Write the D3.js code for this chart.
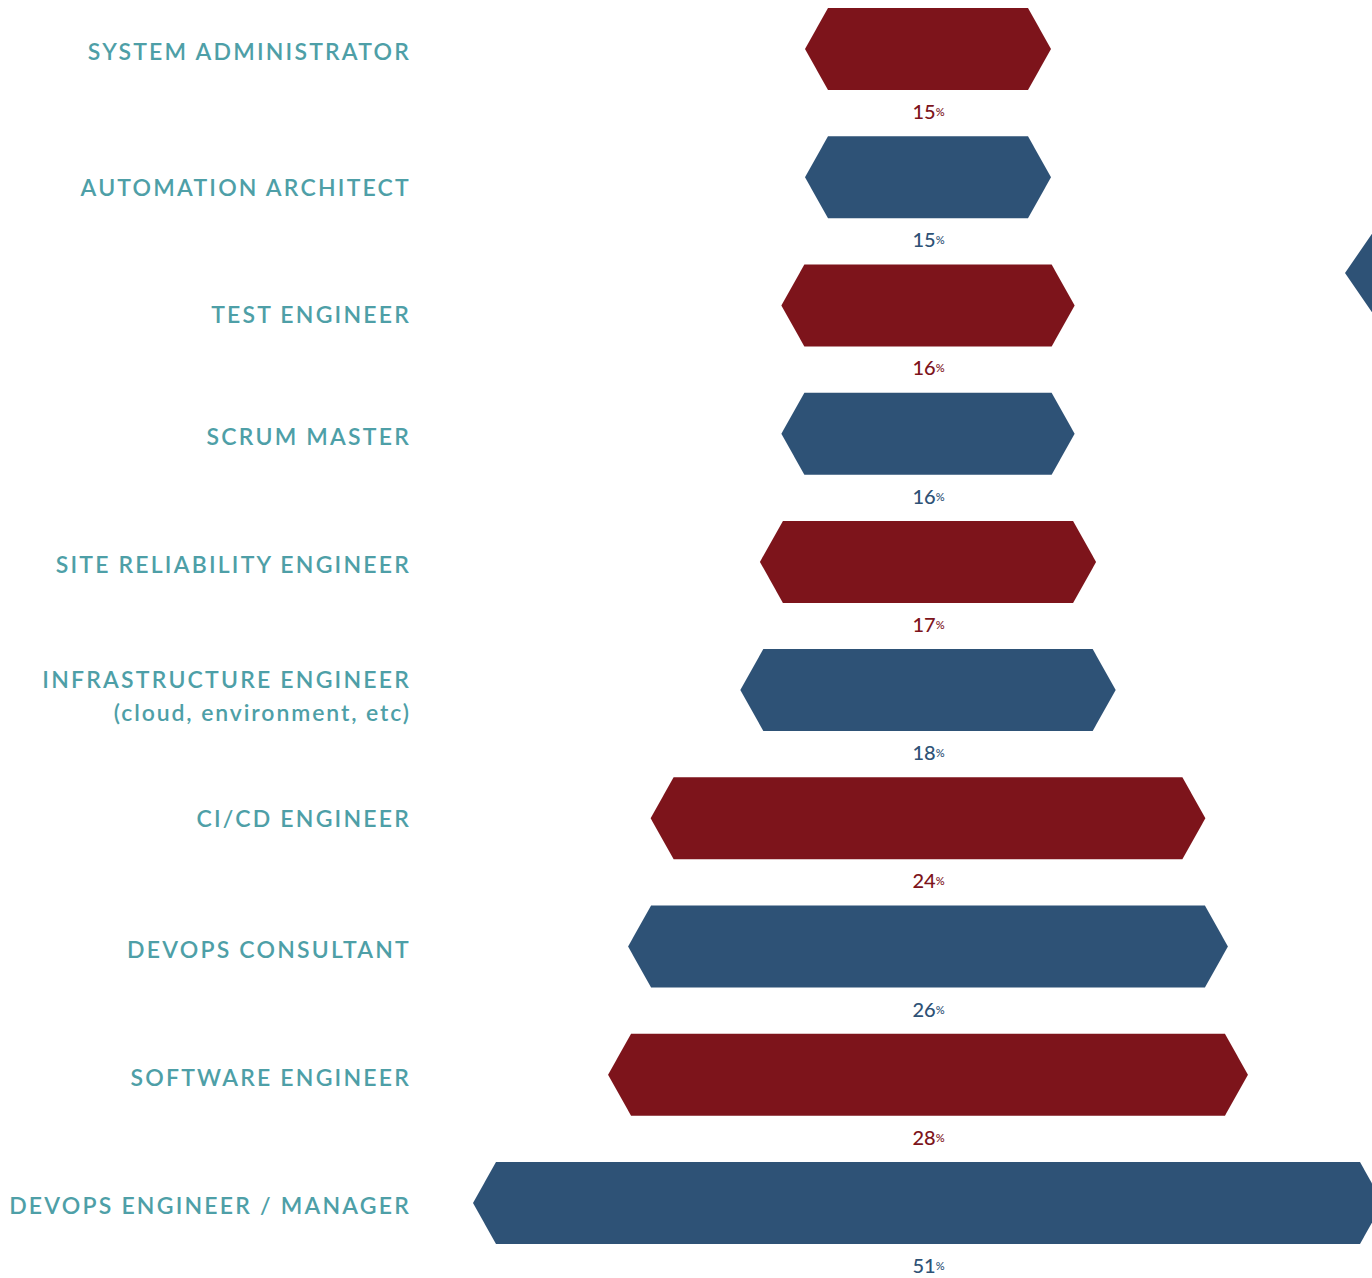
<!DOCTYPE html>
<html>
<head>
<meta charset="utf-8">
<script src="https://cdn.jsdelivr.net/npm/d3@7"></script>
<style>
  html, body { margin: 0; padding: 0; background: #ffffff; overflow: hidden; }
  svg { display: block; }
  .role { font-family: Lato, "Open Sans", sans-serif; font-weight: 600; fill: #4e9fa7; letter-spacing: 2.2px; }
  .share { font-family: Lato, "Open Sans", sans-serif; font-weight: 500; }
</style>
</head>
<body>
<svg id="chart" width="1372" height="1278"></svg>
<script>
// Job titles, top to bottom
const roles = [
  "SYSTEM ADMINISTRATOR",
  "AUTOMATION ARCHITECT",
  "TEST ENGINEER",
  "SCRUM MASTER",
  "SITE RELIABILITY ENGINEER",
  "INFRASTRUCTURE ENGINEER",
  "CI/CD ENGINEER",
  "DEVOPS CONSULTANT",
  "SOFTWARE ENGINEER",
  "DEVOPS ENGINEER / MANAGER"
];
// Second line under a title, where there is one
const roleNotes = ["", "", "", "", "", "(cloud, environment, etc)", "", "", "", ""];
// Share of respondents, percent
const shares = [15, 15, 16, 16, 17, 18, 24, 26, 28, 51];
// Bars alternate between these two fills
const fills = ["#7d141b", "#2e5276"];

const svg = d3.select("#chart");

const centerX = 928;
const barHeight = 82;
const tipInset = 23;
const labelRight = 411;
// small vertical nudges so each title sits on its bar's visual centre line
const labelNudge = [1, 9, 8, 2, 2, 3, -1, 2, 2, 1];

const y = d3.scalePoint().domain(roles).range([49, 1203]);
const barWidth = d3.scalePow().exponent(-0.55).domain([15, 51]).range([246, 910]);

const rows = roles.map((role, i) => ({
  role, note: roleNotes[i], value: shares[i], fill: fills[i % 2], nudge: labelNudge[i]
}));

// decorative edge of a neighbouring panel, mostly off the canvas
svg.append("path")
  .attr("d", "M1345,273 L1400,193 L1480,193 L1480,353 L1400,353 Z")
  .attr("fill", fills[1]);

const hexLine = d3.line();
const hexPoints = d => {
  const half = barWidth(d.value) / 2;
  const cy = y(d.role);
  const l = centerX - half, r = centerX + half;
  const t = cy - barHeight / 2, b = cy + barHeight / 2;
  return [[l, cy], [l + tipInset, t], [r - tipInset, t], [r, cy], [r - tipInset, b], [l + tipInset, b]];
};

const row = svg.selectAll("g.row").data(rows).join("g").attr("class", "row");

row.append("path")
  .attr("d", d => hexLine(hexPoints(d)) + "Z")
  .attr("fill", d => d.fill);

// value label under each bar, with a small percent sign
const share = row.append("text")
  .attr("class", "share")
  .attr("x", centerX + 0.5)
  .attr("y", d => y(d.role) + 70)
  .attr("text-anchor", "middle")
  .attr("fill", d => d.fill);
share.append("tspan").attr("font-size", 20).text(d => d.value);
share.append("tspan").attr("font-size", 11).attr("dy", -3).text("%");

// role titles, right-aligned against the bars
const label = row.append("text")
  .attr("class", "role")
  .attr("x", labelRight)
  .attr("text-anchor", "end")
  .attr("font-size", 23);
label.append("tspan")
  .attr("x", labelRight)
  .attr("y", d => y(d.role) + d.nudge + (d.note ? -5 : 9.5))
  .text(d => d.role);
label.filter(d => d.note).append("tspan")
  .attr("x", labelRight)
  .attr("y", d => y(d.role) + d.nudge + 28)
  .attr("letter-spacing", "1.9px")
  .text(d => d.note);
</script>
</body>
</html>
